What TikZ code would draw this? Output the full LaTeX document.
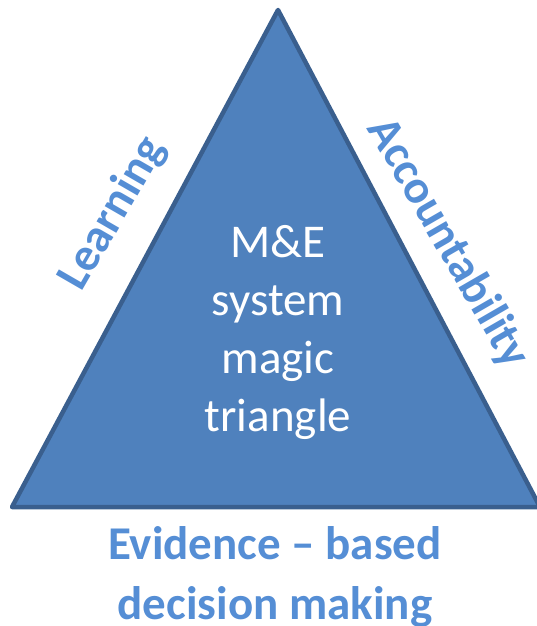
\documentclass[tikz,border=0pt]{standalone}
\usepackage{fontspec}
\setmainfont{Carlito}
\definecolor{triFill}{HTML}{4F81BD}
\definecolor{triLine}{HTML}{3A5F8E}
\definecolor{labBlue}{HTML}{558ED5}
\begin{document}
\begin{tikzpicture}[x=1pt,y=-1pt]
	\tikzstyle{side} = [text=labBlue,inner sep=0pt,align=center,font=\fontsize{47}{60}\selectfont\bfseries]
	\tikzstyle{inner} = [text=white,inner sep=0pt,align=center,font=\fontsize{47}{58}\selectfont]
	\useasboundingbox (0,0) rectangle (537,626);
	\coordinate (apex) at (278,10);
	\coordinate (left) at (12,507);
	\coordinate (right) at (540,507);
	\draw[fill=triFill,draw=triLine,line width=4.5pt,line join=round] (apex) -- (left) -- (right) -- cycle;
	\node[inner](title)at(278,332){M\&E\\system\\magic\\triangle};
	\node[side,rotate=60](learning)at(113,214){Learning};
	\node[side,rotate=-60](account)at(448,243){Accountability};
	\node[side](evidence)at(275,577){Evidence – based\\decision making};
\end{tikzpicture}
\end{document}
